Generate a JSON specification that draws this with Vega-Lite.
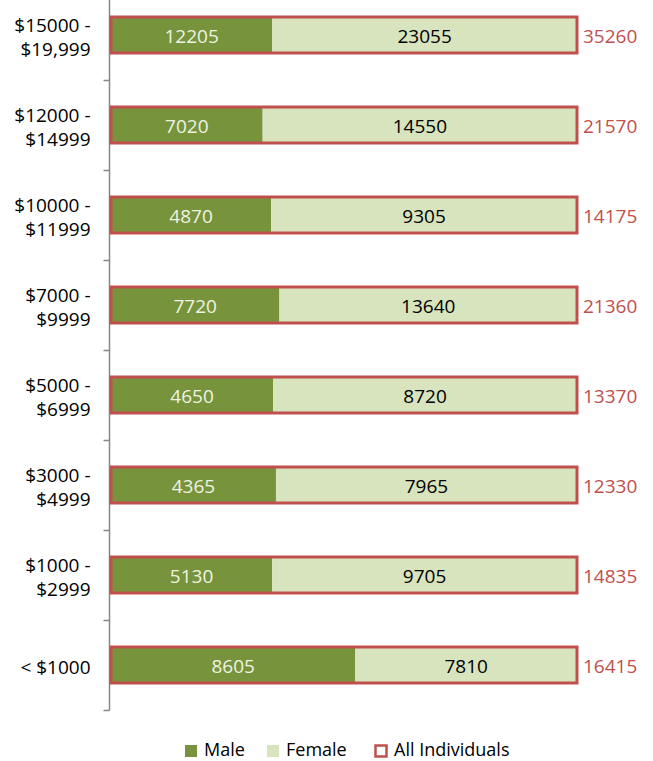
{
  "$schema": "https://vega.github.io/schema/vega-lite/v6.json",
  "width": 466,
  "height": 707,
  "autosize": {"type": "none"},
  "padding": {"left": 111, "top": 0, "right": 76, "bottom": 54},
  "config": {"view": {"stroke": null}, "font": "Open Sans", "text": {"font": "Open Sans"}},
  "data": {
    "values": [
      {"cat": "$15000 -|$19,999", "Male": 12205, "Female": 23055, "total": 35260},
      {"cat": "$12000 -|$14999", "Male": 7020, "Female": 14550, "total": 21570},
      {"cat": "$10000 -|$11999", "Male": 4870, "Female": 9305, "total": 14175},
      {"cat": "$7000 -|$9999", "Male": 7720, "Female": 13640, "total": 21360},
      {"cat": "$5000 -|$6999", "Male": 4650, "Female": 8720, "total": 13370},
      {"cat": "$3000 -|$4999", "Male": 4365, "Female": 7965, "total": 12330},
      {"cat": "$1000 -|$2999", "Male": 5130, "Female": 9705, "total": 14835},
      {"cat": "< $1000", "Male": 8605, "Female": 7810, "total": 16415}
    ]
  },
  "encoding": {
    "y": {
      "field": "cat",
      "type": "nominal",
      "sort": null,
      "scale": {"range": [-10, 710], "paddingInner": 0.6, "paddingOuter": 0.3},
      "axis": {
        "title": null,
        "domainColor": "#868686",
        "domainWidth": 1.5,
        "tickColor": "#868686",
        "tickWidth": 1.5,
        "tickSize": 6,
        "tickOffset": 45,
        "labelOffset": {"condition": {"test": "indexof(datum.value, '|') >= 0", "value": -55}, "value": -43},
        "labelFont": "Open Sans",
        "labelFontSize": 19,
        "labelColor": "#000000",
        "labelPadding": 13,
        "labelLineHeight": 24,
        "labelExpr": "split(datum.label, '|')",
        "offset": 2
      }
    }
  },
  "layer": [
    {
      "transform": [{"fold": ["Male", "Female"], "as": ["g", "v"]}],
      "mark": {"type": "bar"},
      "encoding": {
        "x": {"field": "v", "type": "quantitative", "stack": "normalize", "scale": {"domain": [0, 1], "nice": false}, "axis": null},
        "color": {
          "field": "g",
          "type": "nominal",
          "scale": {"domain": ["Male", "Female"], "range": ["#77933c", "#d7e4bd"]},
          "legend": {
            "title": null,
            "orient": "none",
            "legendX": 71,
            "legendY": 742,
            "direction": "horizontal",
            "symbolType": "square",
            "symbolSize": 144,
            "symbolStrokeWidth": 0,
            "labelFont": "Open Sans",
            "labelFontSize": 18,
            "labelColor": "#000000",
            "labelOffset": 4,
            "columnPadding": 19,
            "padding": 0
          }
        },
        "order": {"field": "g", "sort": "descending"}
      }
    },
    {
      "mark": {"type": "bar", "fill": "transparent", "strokeWidth": 3},
      "encoding": {
        "x": {"field": "total", "type": "quantitative", "stack": "normalize"},
        "stroke": {
          "datum": "All Individuals",
          "type": "nominal",
          "scale": {"domain": ["All Individuals"], "range": ["#c0504d"]},
          "legend": {
            "title": null,
            "orient": "none",
            "legendX": 261,
            "legendY": 742,
            "direction": "horizontal",
            "symbolType": "square",
            "symbolSize": 121,
            "symbolFillColor": "#ffffff",
            "symbolStrokeWidth": 2.5,
            "labelFont": "Open Sans",
            "labelFontSize": 18,
            "labelColor": "#000000",
            "labelOffset": 4,
            "padding": 0
          }
        }
      }
    },
    {
      "transform": [
        {"fold": ["Male", "Female"], "as": ["g", "v"]},
        {"stack": "v", "groupby": ["cat"], "sort": [{"field": "g", "order": "descending"}], "offset": "normalize", "as": ["v0", "v1"]},
        {"calculate": "(datum.v0 + datum.v1) / 2", "as": "mid"}
      ],
      "mark": {"type": "text", "fontSize": 19, "font": "Open Sans", "dy": 2},
      "encoding": {
        "x": {"field": "mid", "type": "quantitative"},
        "text": {"field": "v", "type": "nominal"},
        "color": {"condition": {"test": "datum.g === 'Male'", "value": "#eef3e2"}, "value": "#000000"}
      }
    },
    {
      "mark": {"type": "text", "align": "left", "dx": 6, "dy": 2, "fontSize": 19, "font": "Open Sans", "color": "#c0504d"},
      "encoding": {
        "x": {"field": "total", "type": "quantitative", "stack": "normalize"},
        "text": {"field": "total", "type": "nominal"}
      }
    }
  ]
}
